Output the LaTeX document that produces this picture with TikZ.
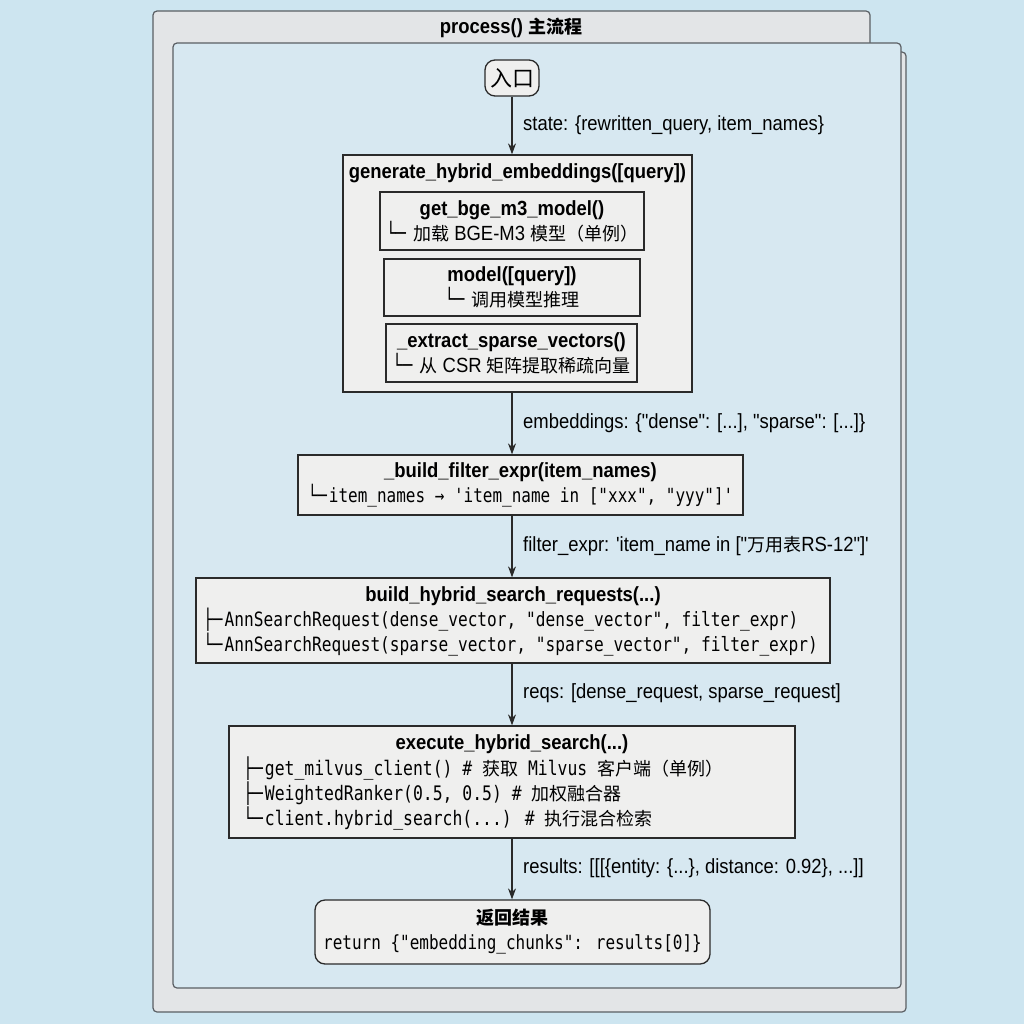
\documentclass[tikz,border=0pt]{standalone}
\usepackage{fontspec}
\setmainfont{Liberation Sans}[FakeStretch=0.9,Ligatures=TeXOff]
\newfontfamily\cjk{Noto Sans CJK SC}
\newfontfamily\codefont{DejaVu Sans Mono}[FakeStretch=0.82,Ligatures=TeXOff]
\usetikzlibrary{arrows.meta,positioning}

\definecolor{bgblue}{HTML}{CDE5F0}
\definecolor{innerblue}{HTML}{D7E8F1}
\definecolor{panelgray}{HTML}{E3E5E7}
\definecolor{panelline}{HTML}{5A5E63}
\definecolor{boxfill}{HTML}{EFEFEE}
\definecolor{boxline}{HTML}{2A2A2A}

\newcommand\zh[1]{{\cjk\fontsize{18}{25}\selectfont#1}}
\newcommand\treel{{\codefont └─}\kern2pt}
\newcommand\treet{{\codefont ├─}\kern2pt}

\tikzset{
  panel/.style={draw=panelline, line width=1.2pt, rounded corners=4pt},
  fnbox/.style={draw=boxline, fill=boxfill, line width=1.3pt, inner sep=0pt,
    align=center, font=\fontsize{20.5}{25}\selectfont},
  roundbox/.style={fnbox, rounded corners=10pt},
  txt/.style={inner sep=0pt, font=\fontsize{20.5}{25}\selectfont},
  ttl/.style={inner sep=0pt, font=\fontsize{20.5}{25}\selectfont\bfseries},
  code/.style={inner sep=0pt, anchor=west, font=\codefont\fontsize{20}{25}\selectfont},
  lbl/.style={txt, anchor=west},
  flow/.style={draw=boxline, line width=1.2pt, -{Stealth[length=11pt,width=8pt]}},
}

\begin{document}
\begin{tikzpicture}[x=1pt,y=-1pt]
  \useasboundingbox[fill=bgblue] (0,0) rectangle (1024,1024);
  % panels
  \path[panel, fill=panelgray] (153,11) -- (870,11) -- (870,52) -- (906,52)
    -- (906,1012) -- (153,1012) -- cycle;
  \path[panel, fill=innerblue] (173,43) rectangle (901,988);
  \node[ttl] (title) at (511,28) {process() \zh{主流程}};

  % entry
  \node[roundbox, minimum width=54, minimum height=36] (entry) at (512,78)
    {{\cjk\fontsize{22}{25}\selectfont 入口}};

  % embeddings
  \node[fnbox, minimum width=349, minimum height=237] (gen) at (517.5,273.5) {};
  \node[ttl] (gen-t) at (517.5,173) {generate\_hybrid\_embeddings([query])};
  \node[fnbox, minimum width=264, minimum height=58] (bge) at (512,221)
    {\textbf{get\_bge\_m3\_model()}\\ \treel\ \zh{加载} BGE-M3 \zh{模型（单例）}};
  \node[fnbox, minimum width=256, minimum height=57] (infer) at (512,287.5)
    {\textbf{model([query])}\\ \treel\ \zh{调用模型推理}};
  \node[fnbox, minimum width=251, minimum height=58] (sparse) at (511.5,353)
    {\textbf{\_extract\_sparse\_vectors()}\\ \treel\ \zh{从} CSR \zh{矩阵提取稀疏向量}};

  % filter
  \node[fnbox, minimum width=445, minimum height=60] (filt) at (520.5,485)
    {\textbf{\_build\_filter\_expr(item\_names)}\\
     {\codefont\fontsize{19.5}{25}\selectfont \treel item\_names → 'item\_name in ["xxx", "yyy"]'}};

  % requests
  \node[fnbox, minimum width=634, minimum height=85] (build) at (513,620.5) {};
  \node[ttl] (build-t) at (513,596) {build\_hybrid\_search\_requests(...)};
  \node[code, font=\codefont\fontsize{19.7}{25}\selectfont] (build-a) at (203,620)
    {\treet AnnSearchRequest(dense\_vector, "dense\_vector", filter\_expr)};
  \node[code, font=\codefont\fontsize{19.7}{25}\selectfont] (build-b) at (203,645)
    {\treel AnnSearchRequest(sparse\_vector, "sparse\_vector", filter\_expr)};

  % search
  \node[fnbox, minimum width=566, minimum height=112] (exec) at (512,782) {};
  \node[ttl] (exec-t) at (512,744) {execute\_hybrid\_search(...)};
  \node[code] (exec-a) at (243,769)
    {\treet get\_milvus\_client() \# \zh{获取} Milvus \zh{客户端（单例）}};
  \node[code] (exec-b) at (243,794)
    {\treet WeightedRanker(0.5, 0.5) \# \zh{加权融合器}};
  \node[code] (exec-c) at (243,818)
    {\treel client.hybrid\_search(...) \# \zh{执行混合检索}};

  % result
  \node[roundbox, minimum width=395, minimum height=64] (ret) at (512.5,932)
    {\textbf{\zh{返回结果}}\\
     {\codefont\fontsize{19.5}{25}\selectfont return \{"embedding\_chunks": results[0]\}}};

  % connectors
  \draw[flow] (entry) -- (entry |- gen.north);
  \draw[flow] (entry |- gen.south) -- (entry |- filt.north);
  \draw[flow] (entry |- filt.south) -- (entry |- build.north);
  \draw[flow] (entry |- build.south) -- (entry |- exec.north);
  \draw[flow] (entry |- exec.south) -- (entry |- ret.north);

  \node[lbl] (l-state) at (523,125) {state: \{rewritten\_query, item\_names\}};
  \node[lbl] (l-emb) at (523,423) {embeddings: \{"dense": [...], "sparse": [...]\}};
  \node[lbl] (l-filt) at (523,546) {filter\_expr: 'item\_name in ["\zh{万用表}RS-12"]'};
  \node[lbl] (l-reqs) at (523,693) {reqs: [dense\_request, sparse\_request]};
  \node[lbl] (l-res) at (523,868) {results: [[[\{entity: \{...\}, distance: 0.92\}, ...]]};
\end{tikzpicture}
\end{document}
